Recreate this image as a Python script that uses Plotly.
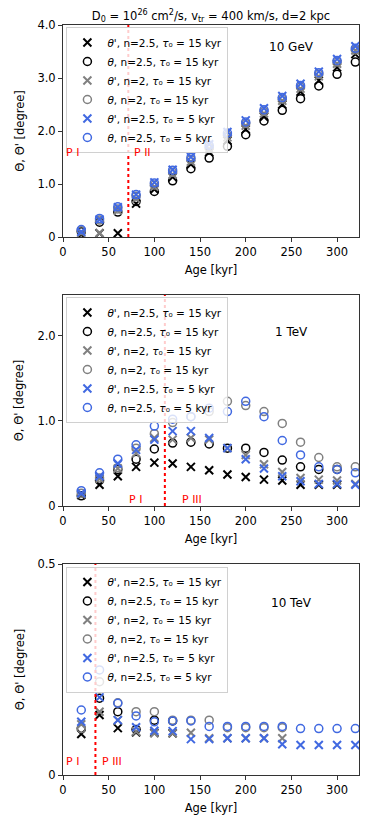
import plotly.graph_objects as go

# ages [kyr]
ages = [20, 40, 60, 80, 100, 120, 140, 160, 180, 200, 220, 240, 260, 280, 300, 320]

# --- 10 GeV ---
gev_tp_n25_t15 = [0.05, 0.07, 0.07, 0.63, 0.90, 1.13, 1.37, 1.60, 1.82, 2.03, 2.27, 2.50, 2.74, 2.95, 3.20, 3.45]
gev_t_n25_t15 = [0.10, 0.28, 0.47, 0.67, 0.86, 1.06, 1.29, 1.49, 1.71, 1.93, 2.19, 2.39, 2.61, 2.85, 3.07, 3.30]
gev_tp_n2_t15 = [0.08, 0.07, 0.50, 0.72, 0.95, 1.18, 1.42, 1.66, 1.88, 2.10, 2.33, 2.57, 2.80, 3.03, 3.27, 3.52]
gev_t_n2_t15 = [0.12, 0.32, 0.53, 0.77, 0.98, 1.22, 1.46, 1.69, 1.92, 2.14, 2.37, 2.60, 2.83, 3.07, 3.30, 3.53]
gev_tp_n25_t5 = [0.10, 0.33, 0.56, 0.80, 1.03, 1.27, 1.51, 1.75, 1.98, 2.20, 2.43, 2.66, 2.89, 3.12, 3.36, 3.60]
gev_t_n25_t5 = [0.14, 0.35, 0.57, 0.80, 1.02, 1.26, 1.50, 1.73, 1.96, 2.17, 2.40, 2.63, 2.86, 3.10, 3.33, 3.56]

# --- 1 TeV ---
tev1_tp_n25_t15 = [0.13, 0.25, 0.35, 0.46, 0.51, 0.50, 0.46, 0.42, 0.37, 0.34, 0.31, 0.30, 0.25, 0.25, 0.25, None]
tev1_t_n25_t15 = [0.12, 0.30, 0.43, 0.55, 0.67, 0.74, 0.75, 0.73, 0.68, 0.68, 0.63, 0.54, 0.46, 0.43, 0.43, None]
tev1_tp_n2_t15 = [0.14, 0.32, 0.44, 0.62, 0.80, 0.78, 0.80, 0.78, 0.68, 0.60, 0.49, 0.40, 0.33, 0.31, 0.30, 0.26]
tev1_t_n2_t15 = [0.15, 0.33, 0.45, 0.68, 0.85, 0.98, 1.05, 1.11, 1.23, 1.18, 1.11, 0.97, 0.75, 0.57, 0.46, 0.46]
tev1_tp_n25_t5 = [0.15, 0.35, 0.50, 0.66, 0.78, 0.88, 0.88, 0.80, 0.68, 0.55, 0.44, 0.35, 0.29, 0.26, 0.26, 0.25]
tev1_t_n25_t5 = [0.18, 0.39, 0.55, 0.72, 0.94, 1.02, 1.05, 1.15, 1.11, 1.23, 1.05, 0.77, 0.60, 0.46, 0.43, 0.39]

# --- 10 TeV ---
tev10_tp_n25_t15 = [0.097, 0.142, 0.111, 0.101, 0.100, 0.099]
tev10_t_n25_t15 = [0.110, 0.182, 0.150, 0.108, 0.130, 0.128]
tev10_tp_n2_t15 = [0.120, 0.150, 0.130, 0.103, 0.099, 0.099, 0.100, 0.087, 0.087, 0.087, 0.087, 0.087]
tev10_t_n2_t15 = [0.110, 0.221, 0.171, 0.150, 0.150, 0.130, 0.130, 0.130, 0.112, 0.112, 0.112, 0.112]
tev10_tp_n25_t5 = [0.126, 0.184, 0.130, 0.113, 0.105, 0.104, 0.085, 0.085, 0.087, 0.087, 0.087, 0.073, 0.071, 0.071, 0.071, 0.071]
tev10_t_n25_t5 = [0.154, 0.249, 0.170, 0.140, 0.126, 0.128, 0.128, 0.115, 0.115, 0.115, 0.115, 0.115, 0.110, 0.110, 0.110, 0.110]

series_names = [
    "<i>θ</i>', n=2.5, <i>τ</i>₀ = 15 kyr",
    "<i>θ</i>, n=2.5, <i>τ</i>₀ = 15 kyr",
    "<i>θ</i>', n=2, <i>τ</i>₀ = 15 kyr",
    "<i>θ</i>, n=2, <i>τ</i>₀ = 15 kyr",
    "<i>θ</i>', n=2.5, <i>τ</i>₀ = 5 kyr",
    "<i>θ</i>, n=2.5, <i>τ</i>₀ = 5 kyr",
]
series_colors = ["black", "black", "gray", "gray", "royalblue", "royalblue"]
series_symbols = ["x-thin", "circle-open", "x-thin", "circle-open", "x-thin", "circle-open"]

# page body has an 8px offset, so the figure is laid out 8px up/left of the target
W, H = 366, 813
L, R, T, B = 55.3, 14.7, 17, 46
plot_w, plot_h = W - L - R, H - T - B


def ydom(top_px, bot_px):
    # reference pixel rows -> domain fraction
    return [(H + 8 - B - bot_px) / plot_h, (H + 8 - B - top_px) / plot_h]


panels = [
    dict(data=[gev_tp_n25_t15, gev_t_n25_t15, gev_tp_n2_t15, gev_t_n2_t15, gev_tp_n25_t5, gev_t_n25_t5],
         energy="10 GeV", ymax=4.0, ticks=[0, 1, 2, 3, 4], ticktext=["0", "1.0", "2.0", "3.0", "4.0"],
         vline=71.5, phases=[("P I", 1), ("P II", 75)], phase_y=1.59, label_y=3.59,
         domain=ydom(25, 237), legend_top_px=27),
    dict(data=[tev1_tp_n25_t15, tev1_t_n25_t15, tev1_tp_n2_t15, tev1_t_n2_t15, tev1_tp_n25_t5, tev1_t_n25_t5],
         energy="1 TeV", ymax=2.48, ticks=[0, 1, 2], ticktext=["0", "1.0", "2.0"],
         vline=111.5, phases=[("P I", 70.5), ("P III", 128.5)], phase_y=0.08, label_y=2.04,
         domain=ydom(295, 506), legend_top_px=297),
    dict(data=[tev10_tp_n25_t15, tev10_t_n25_t15, tev10_tp_n2_t15, tev10_t_n2_t15, tev10_tp_n25_t5, tev10_t_n25_t5],
         energy="10 TeV", ymax=0.5, ticks=[0, 0.5], ticktext=["0", "0.5"],
         vline=35.5, phases=[("P I", 1), ("P III", 40)], phase_y=0.032, label_y=0.408,
         domain=ydom(564, 775), legend_top_px=566.5),
]

font_family = "DejaVu Sans"
fig = go.Figure()
annotations = []
shapes = []

for i, p in enumerate(panels):
    n = i + 1
    ax = "" if n == 1 else str(n)
    leg = "legend" if n == 1 else f"legend{n}"
    for k, vals in enumerate(p["data"]):
        fig.add_trace(go.Scatter(
            x=ages[:len(vals)], y=vals, mode="markers", name=series_names[k],
            xaxis="x" + ax, yaxis="y" + ax, legend=leg,
            marker=dict(symbol=series_symbols[k], size=8, color=series_colors[k],
                        line=dict(color=series_colors[k], width=2 if "x" in series_symbols[k] else 1.5)),
        ))

    legend_y = (H + 8 - B - p["legend_top_px"]) / plot_h
    fig.update_layout({
        "xaxis" + ax: dict(domain=[0, 1], anchor="y" + ax, range=[0, 324],
                           tickvals=[0, 50, 100, 150, 200, 250, 300],
                           title=dict(text="Age [kyr]", font=dict(size=11.5), standoff=8),
                           showline=True, linecolor="#333", linewidth=1, mirror=True,
                           ticks="outside", ticklen=4, tickcolor="#333", automargin=False,
                           showgrid=False, zeroline=False, tickfont=dict(size=11.5)),
        "yaxis" + ax: dict(domain=p["domain"], anchor="x" + ax, range=[0, p["ymax"]],
                           tickvals=p["ticks"], ticktext=p["ticktext"],
                           showline=True, linecolor="#333", linewidth=1, mirror=True,
                           ticks="outside", ticklen=4, tickcolor="#333", automargin=False,
                           showgrid=False, zeroline=False, tickfont=dict(size=11.5)),
        leg: dict(x=0.0115, y=legend_y, xanchor="left", yanchor="top",
                  bgcolor="rgba(255,255,255,0.8)", bordercolor="#d0d0d0", borderwidth=1,
                  font=dict(size=10.5), itemwidth=30, tracegroupgap=0),
    })

    # y-axis title placed as rotated text left of the tick labels
    annotations.append(dict(text="Θ, Θ' [degree]", textangle=-90, x=(12 - L) / plot_w,
                            y=sum(p["domain"]) / 2, xref="paper", yref="paper",
                            xanchor="center", yanchor="middle", showarrow=False,
                            font=dict(size=11.5)))
    shapes.append(dict(type="line", xref="x" + ax, yref=f"y{ax} domain", x0=p["vline"], x1=p["vline"],
                       y0=0, y1=1, line=dict(color="red", width=2, dash="dot"), layer="above"))
    for txt, xpos in p["phases"]:
        annotations.append(dict(text=txt, x=xpos, y=p["phase_y"], xref="x" + ax, yref="y" + ax,
                                xanchor="left", yanchor="middle", showarrow=False,
                                font=dict(color="red", size=11)))
    annotations.append(dict(text=p["energy"], x=250, y=p["label_y"], xref="x" + ax, yref="y" + ax,
                            xanchor="center", yanchor="middle", showarrow=False,
                            font=dict(color="black", size=12)))

fig.update_layout(
    width=W, height=H,
    margin=dict(l=L, r=R, t=T, b=B),
    paper_bgcolor="white", plot_bgcolor="white",
    font=dict(family=font_family, color="black"),
    title=dict(text="D<sub>0</sub> = 10<sup>26</sup> cm<sup>2</sup>/s, v<sub>tr</sub> = 400 km/s, d=2 kpc",
               x=(211 - 8) / W, xref="container", xanchor="center",
               y=1 - 8 / H, yref="container", yanchor="middle", font=dict(size=11.5)),
    annotations=annotations, shapes=shapes,
)

fig.write_html("out.html")
